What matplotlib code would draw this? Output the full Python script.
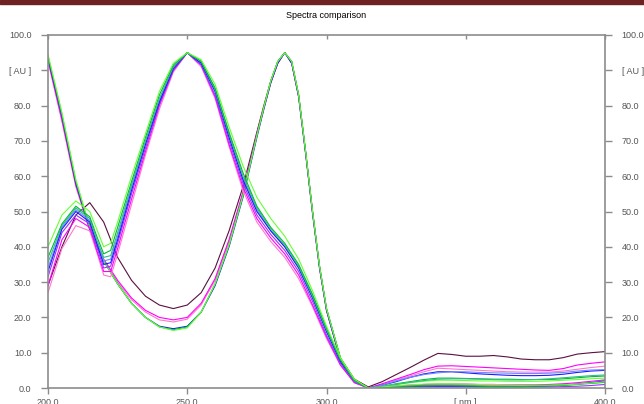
import matplotlib
matplotlib.use("Agg")
import matplotlib.pyplot as plt
from matplotlib.patches import Rectangle

plt.rcParams["font.family"] = ["Liberation Sans", "DejaVu Sans"]

# wavelength grids (nm)
WL_A = [200, 205, 210, 215, 217.5, 220, 222.5, 225, 230, 235, 240, 245, 250, 255, 260, 265,
        270, 275, 280, 285, 290, 295, 300, 305, 310, 315, 320, 325, 330, 335, 340, 345,
        350, 355, 360, 365, 370, 375, 380, 385, 390, 395, 400]
WL_B = [200, 205, 210, 215, 220, 225, 230, 235, 240, 245, 250, 255, 260, 265, 270, 275,
        277.5, 280, 282.5, 285, 287.5, 290, 292.5, 295, 297.5, 300, 305, 310, 315, 320,
        325, 330, 335, 340, 345, 350, 355, 360, 365, 370, 375, 380, 385, 390, 395, 400]

# group A: spectra with maximum at 250 nm
a_pink = [27, 39.5, 46, 44.5, 38.5, 32, 31.5, 38, 52, 66, 79, 89.5, 95, 91, 82, 68.5,
          56, 47, 41.5, 37, 31, 23, 14, 6.5, 1.5, 0, 0.2, 0.4, 0.6, 0.7, 0.8, 0.8,
          0.8, 0.7, 0.7, 0.6, 0.6, 0.7, 0.8, 1.0, 1.2, 1.5, 1.8]
a_magenta = [29, 42, 48, 45.5, 39, 33, 33, 39.5, 53.5, 67, 80, 90, 95, 91.5, 82.5, 69,
             57, 48, 42.5, 38, 32, 23.5, 14.5, 6.5, 1.5, 0, 0.3, 0.6, 0.8, 1.0, 1.1, 1.1,
             1.1, 1.0, 1.0, 0.9, 0.9, 0.9, 1.0, 1.2, 1.5, 1.9, 2.3]
a_violet = [31.5, 44, 49, 46.5, 40, 34, 34.5, 41, 55, 68, 80.5, 90, 95, 91.5, 83, 70,
            58, 49, 43.5, 39, 33, 24.5, 15, 7, 1.8, 0, 0.1, 0.2, 0.3, 0.3, 0.3, 0.3,
            0.3, 0.3, 0.3, 0.3, 0.3, 0.3, 0.3, 0.4, 0.5, 0.7, 1.0]
a_cornflower = [34, 45.5, 50.5, 47.5, 41.5, 36, 36.5, 43, 57, 69.5, 81.5, 91, 95, 92, 84, 71.5,
                59.5, 50.5, 44.5, 40, 34, 25.5, 16, 7.5, 2, 0, 0.8, 2.0, 3.0, 3.8, 4.3, 4.6,
                4.6, 4.4, 4.3, 4.2, 4.1, 4.1, 4.2, 4.4, 4.8, 5.1, 5.2]
a_blue = [33, 45, 50, 47, 41, 35, 35.5, 42, 56, 69, 81, 90.5, 95, 92, 84, 71,
          59, 50, 44.5, 40, 34, 25.5, 16, 7.5, 2, 0, 0.2, 0.3, 0.4, 0.5, 0.5, 0.5,
          0.5, 0.4, 0.4, 0.4, 0.4, 0.5, 0.6, 0.8, 1.1, 1.5, 2.0]
a_teal = [35.5, 46, 51, 48, 42, 37, 37.5, 44, 57.5, 70, 82, 91, 95, 92.5, 84.5, 72,
          60, 51, 45, 40.5, 34.5, 26, 16.5, 8, 2, 0, 0.4, 1.0, 1.6, 2.1, 2.5, 2.6,
          2.6, 2.5, 2.4, 2.3, 2.3, 2.4, 2.6, 2.9, 3.2, 3.5, 3.7]
a_green = [37, 46.5, 51.5, 48.5, 43, 38, 39, 45.5, 58.5, 71, 83, 91.5, 95, 92.5, 85, 72.5,
           61, 51.5, 45.5, 41, 35, 26.5, 17, 8, 2.2, 0, 0.2, 0.4, 0.5, 0.6, 0.7, 0.7,
           0.6, 0.5, 0.4, 0.4, 0.4, 0.5, 0.6, 0.8, 1.0, 1.3, 1.6]
a_lightgreen = [40, 49, 53, 50, 45, 40, 41, 47, 60, 72, 84, 92, 95, 93, 86, 74,
                63, 54, 48, 43, 36.5, 27.5, 17.5, 8.5, 2.5, 0, 0.3, 0.6, 0.9, 1.1, 1.2, 1.2,
                1.1, 1.0, 1.0, 0.9, 0.8, 0.8, 0.8, 0.9, 1.1, 1.4, 1.8]

# group B: spectra with maximum at 285 nm
b_maroon = [29, 40, 49, 52.5, 47, 37, 30.5, 26, 23.5, 22.5, 23.5, 27, 34, 44.5, 57, 72.5,
            80, 87, 92.5, 95, 92.5, 83, 67, 50, 34.5, 22.5, 8.5, 2.5, 0.3, 1.8,
            3.8, 5.8, 7.9, 9.8, 9.5, 9.0, 9.0, 9.2, 8.8, 8.2, 8.0, 8.0, 8.6, 9.6, 10.0, 10.3]
b_pink = [92.5, 75.5, 57, 44.5, 36, 30, 25, 21.5, 19.3, 18.7, 19.5, 23.5, 30.5, 41.5, 55, 71.5,
          79, 86.5, 92, 95, 92, 82.5, 66.5, 49.5, 34, 22, 8, 2, 0, 1.0,
          2.2, 3.4, 4.6, 5.6, 5.4, 5.2, 5.0, 4.8, 4.6, 4.5, 4.5, 4.5, 4.8, 5.3, 5.8, 6.2]
b_magenta = [93, 76, 57.5, 45, 36.5, 30.5, 25.5, 22, 20, 19.3, 20, 24, 31, 42, 55.5, 72,
             79.5, 86.5, 92, 95, 92, 82.5, 66.5, 49.5, 34, 22, 8, 2, 0, 1.2,
             2.5, 3.8, 5.2, 6.2, 6.3, 6.1, 5.9, 5.7, 5.5, 5.3, 5.1, 5.0, 5.5, 6.5, 7.0, 7.4]
b_blue = [93.5, 77, 58, 45, 36, 29.5, 24, 20, 17.5, 16.8, 17.5, 21.5, 29, 40, 54, 71,
          79, 86.5, 92, 95, 92, 82.5, 66.5, 49.5, 34, 22, 8, 2, 0, 0.8,
          1.8, 3.0, 4.0, 4.6, 4.6, 4.3, 4.0, 3.8, 3.6, 3.5, 3.5, 3.6, 3.9, 4.4, 4.8, 5.0]
b_green = [94, 77.5, 58.5, 45.5, 36, 29.5, 24, 20, 17.3, 16.5, 17.3, 21.5, 29.5, 40.5, 54.5, 71.5,
           79.5, 87, 92.5, 95, 92.5, 83, 67, 50, 34.5, 22.5, 8.5, 2.2, 0, 0.5,
           1.2, 1.8, 2.4, 2.8, 2.8, 2.7, 2.6, 2.5, 2.5, 2.4, 2.4, 2.4, 2.6, 2.9, 3.2, 3.4]
b_lightgreen = [94.5, 78, 59, 45.5, 36, 29.5, 24, 20, 17.3, 16.3, 17, 21.5, 29.5, 40.5, 54.5, 71.5,
                79.5, 87, 92.5, 95, 92.5, 83, 67, 50, 34.5, 22.5, 8.5, 2.2, 0, 0.4,
                1.0, 1.5, 1.9, 2.2, 2.2, 2.1, 2.0, 2.0, 1.9, 1.9, 1.9, 2.0, 2.2, 2.4, 2.6, 2.8]

COLORS = {
    "maroon": "#5a1040", "pink": "#ff77cc", "magenta": "#ff00ff", "violet": "#9933ff",
    "cornflower": "#6b8cff", "blue": "#1a1aff", "teal": "#33bb88", "green": "#00bb33",
    "lightgreen": "#66ff33",
}

Y_TICKS = [0, 10, 20, 30, 40, 50, 60, 70, 80, 90, 100]
Y_LABELS = ["0.0", "10.0", "20.0", "30.0", "40.0", "50.0", "60.0", "70.0", "80.0", "[ AU ]", "100.0"]
X_TICKS = [200, 250, 300, 350, 400]
X_LABELS = ["200.0", "250.0", "300.0", "[ nm ]", "400.0"]

group_a = [("pink", a_pink), ("magenta", a_magenta), ("violet", a_violet),
           ("cornflower", a_cornflower), ("blue", a_blue), ("teal", a_teal),
           ("green", a_green), ("lightgreen", a_lightgreen)]
group_b = [("maroon", b_maroon), ("pink", b_pink), ("magenta", b_magenta),
           ("blue", b_blue), ("green", b_green), ("lightgreen", b_lightgreen)]

fig = plt.figure(figsize=(6.44, 4.04), dpi=100)
fig.patches.append(Rectangle((0, 1 - 4 / 404), 1, 4 / 404, transform=fig.transFigure,
                             color="#6e2222", zorder=5))
ax = fig.add_axes([48 / 644, 1 - 388 / 404, (605 - 48) / 644, (388 - 35) / 404])

for name, vals in group_b:
    ax.plot(WL_B, vals, color=COLORS[name], lw=0.8)
for name, vals in group_a:
    ax.plot(WL_A, vals, color=COLORS[name], lw=0.8)

ax.set_xlim(200, 400)
ax.set_ylim(0, 100)
grey = "#8c8c8c"
for side in ax.spines.values():
    side.set_color(grey)
    side.set_linewidth(1.2)

ax.set_yticks(Y_TICKS)
ax.set_yticklabels(Y_LABELS)
ax.set_xticks(X_TICKS)
ax.set_xticklabels(X_LABELS)
ax.tick_params(axis="y", direction="out", length=5, width=1, color=grey, labelsize=6.5,
               labelcolor="#555555", right=True, labelright=True, pad=7)
ax.tick_params(axis="x", direction="out", length=4, width=1, color=grey, labelsize=6.5,
               labelcolor="#555555", pad=3)

top = ax.secondary_xaxis("top")
top.set_xticks(X_TICKS)
top.tick_params(direction="in", length=3, width=1, color=grey, labeltop=False)
top.spines["top"].set_visible(False)

fig.text((48 + 605) / 2 / 644, 1 - 15 / 404, "Spectra comparison", ha="center", va="center",
         fontsize=6.5, color="black")

fig.savefig("out.png", dpi=100, facecolor="white")
